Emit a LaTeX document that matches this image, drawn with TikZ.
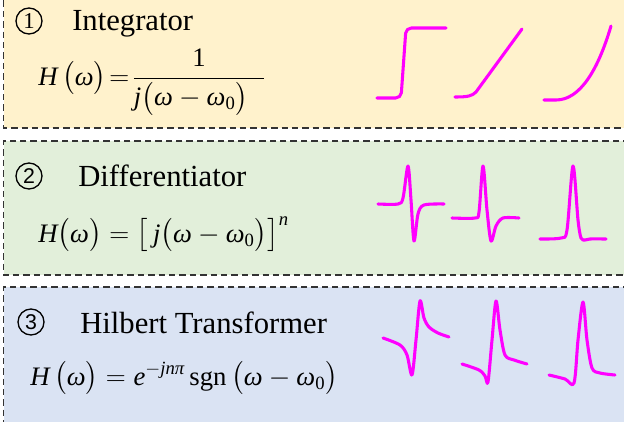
\documentclass[tikz,border=0pt]{standalone}
\usepackage{amsmath}
\usepackage{fontspec}
\setmainfont{Liberation Serif}
\newfontfamily\digitsans{Liberation Sans}

\definecolor{boxyellow}{HTML}{FFF2CC}
\definecolor{boxgreen}{HTML}{E2EFDA}
\definecolor{boxblue}{HTML}{DAE3F3}
\definecolor{boxline}{HTML}{333333}
\definecolor{wavepink}{HTML}{FF00FF}

\newcommand\iw{\textit{ω}}

\tikzset{
  panel/.style={draw=boxline, line width=0.9pt, dash pattern=on 4.8pt off 3pt},
  wave/.style={draw=wavepink, line width=2.3pt, line cap=round, line join=round},
  title/.style={anchor=base west, inner sep=0pt, font=\fontsize{23}{26}\selectfont},
  eqn/.style={anchor=base west, inner sep=0pt, font=\fontsize{20}{20}\selectfont},
  eqnbig/.style={eqn, font=\fontsize{20}{28}\selectfont},
  circnum/.style={draw, circle, line width=1pt, minimum size=19.5pt, inner sep=0pt,
                  font=\fontsize{17}{20}\selectfont}
}

\begin{document}
\begin{tikzpicture}[x=0.75pt, y=-0.75pt]

    \clip (0,0) rectangle (624,421);

    % Kotak latar
    \fill[boxyellow] (3.5,-10) rectangle (640,128);
    \draw[panel] (3.5,-10) -- (3.5,128) -- (640,128);
    \fill[boxgreen] (3.5,141) rectangle (640,275);
    \draw[panel] (640,141) -- (3.5,141) -- (3.5,275) -- (640,275);
    \fill[boxblue] (3.5,287) rectangle (640,440);
    \draw[panel] (640,287) -- (3.5,287) -- (3.5,440);

    % Integrator
    \node[circnum] (num1) at (29,21) {1};
    \node[title] (title1) at (72,31) {Integrator};
    \node[eqn] (eq1) at (38,85)
        {\thickmuskip=2mu $\textit{H}\,\bigl(\iw\bigr)=\dfrac{\text{1}}{\textit{j}\bigl(\iw-\iw_{\text{0}}\bigr)\hspace{0.6em}}$};

    \draw[wave, rounded corners=4] (377,98) -- (401,98) -- (406,28) -- (446,28);
    \draw[wave] (455,97) .. controls (468,97) and (472,96) .. (476,92) -- (522,29);
    \draw[wave] (544,100) -- (556,100) .. controls (580,100) and (598,70) .. (611,26);

    % Differentiator
    \node[circnum, font=\digitsans\fontsize{16}{20}\selectfont] (num2) at (29,176) {2};
    \node[title] (title2) at (78,186) {Differentiator};
    \node[eqnbig] (eq2) at (38,242)
        {$\textit{H}\bigl(\iw\bigr)=\bigl[\,\textit{j}\bigl(\iw-\iw_{\text{0}}\bigr)\bigr]^{\textit{n}}$};

    \draw[wave] plot[smooth, tension=0.5] coordinates
        {(378,204) (398,204) (403,198) (408,166) (411,200) (414,241) (418,214) (424,205) (444,204)};
    \draw[wave] plot[smooth, tension=0.5] coordinates
        {(452,218) (475,218) (479,212) (483,166) (487,210) (491,241) (496,226) (503,218) (519,218)};
    \draw[wave] plot[smooth, tension=0.5] coordinates
        {(540,239) (561,238) (567,230) (573,166) (578,220) (581,238) (585,240) (590,239) (606,239)};

    % Hilbert Transformer
    \node[circnum, font=\digitsans\fontsize{16}{20}\selectfont] (num3) at (31,322) {3};
    \node[title] (title3) at (80,333) {Hilbert Transformer};
    \node[eqnbig] (eq3) at (30,385)
        {$\textit{H}\,\bigl(\iw\bigr)=\textit{e}^{-\textit{jnπ}}\,\text{sgn}\,\bigl(\iw-\iw_{\text{0}}\bigr)$};

    \draw[wave] plot[smooth, tension=0.5] coordinates
        {(383,338) (400,345) (407,355) (412,375) (416,340) (420,301) (424,318) (429,327) (438,333) (449,337)};
    \draw[wave] plot[smooth, tension=0.5] coordinates
        {(462,364) (479,370) (485,376) (488,382) (492,340) (496,301) (500,330) (505,355) (514,360) (527,364)};
    \draw[wave] plot[smooth, tension=0.5] coordinates
        {(549,375) (565,379) (574,383) (578,340) (583,302) (587,340) (592,368) (600,373) (615,375)};

\end{tikzpicture}
\end{document}
